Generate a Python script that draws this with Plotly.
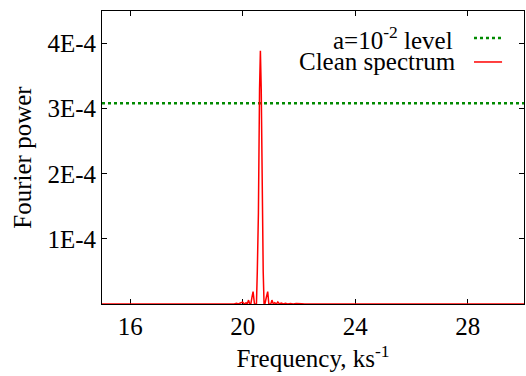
import plotly.graph_objects as go

# Clean spectrum samples (frequency in ks^-1, power)
freq = [15.0, 18.8, 19.0, 19.1, 19.2, 19.3, 19.4, 19.5, 19.6, 19.7, 19.78, 19.85, 19.92,
        20.0, 20.06, 20.12, 20.16, 20.21, 20.25, 20.29, 20.33, 20.37, 20.42, 20.49,
        20.52, 20.56, 20.6, 20.63, 20.66, 20.7, 20.73, 20.76,
        20.79, 20.84, 20.89, 20.93, 20.97, 21.0, 21.04,
        21.09, 21.14, 21.2, 21.25, 21.31, 21.37, 21.45, 21.52, 21.6, 21.7, 21.8,
        21.9, 22.0, 22.1, 22.2, 22.4, 30.0]
power = [0.0, 0.0, 0.04e-5, 0.0, 0.05e-5, 0.0, 0.06e-5, 0.0, 0.08e-5, 0.0, 0.12e-5, 0.0, 0.15e-5,
         0.3e-5, 0.0, 0.2e-5, 0.0, 0.6e-5, 0.0, 0.0, 1.0e-5, 1.9e-5, 0.0, 0.0,
         5.0e-5, 14.0e-5, 33.0e-5, 38.9e-5, 33.0e-5, 14.0e-5, 5.0e-5, 0.0,
         0.0, 1.0e-5, 1.9e-5, 0.0, 0.0, 0.0, 0.6e-5,
         0.0, 0.2e-5, 0.0, 0.3e-5, 0.0, 0.15e-5, 0.0, 0.12e-5, 0.0, 0.08e-5, 0.0,
         0.06e-5, 0.0, 0.05e-5, 0.0, 0.0, 0.0]

level_freq = [15.0, 30.0]
level_power = [3.085e-4, 3.085e-4]

x_ticks = [16, 20, 24, 28]
y_ticks = [1e-4, 2e-4, 3e-4, 4e-4]
y_ticklabels = ["1E-4", "2E-4", "3E-4", "4E-4"]

legend_labels = ["a=10<sup>-2</sup> level", "Clean spectrum"]

GREEN = "#008a00"
RED = "#ff0000"
FONT = "Liberation Serif"
FS = 25

fig = go.Figure()
fig.add_trace(go.Scatter(x=level_freq, y=level_power, mode="lines",
                         line=dict(color=GREEN, width=2.5, dash="dot"),
                         name=legend_labels[0], showlegend=False))
fig.add_trace(go.Scatter(x=freq, y=power, mode="lines",
                         line=dict(color=RED, width=1.5),
                         name=legend_labels[1], showlegend=False))

# gnuplot-style legend: text right-aligned, sample on the right
rows_y = [0.908, 0.826]
rows_x = [0.837, 0.843]
styles = [dict(color=GREEN, width=2.5, dash="dot"), dict(color=RED, width=1.5)]
for lbl, yy, xx, st in zip(legend_labels, rows_y, rows_x, styles):
    fig.add_annotation(xref="paper", yref="paper", x=xx, y=yy, text=lbl,
                       showarrow=False, xanchor="right", yanchor="middle",
                       font=dict(family=FONT, size=FS, color="black"))
    fig.add_shape(type="line", xref="paper", yref="paper",
                  x0=0.8815, x1=0.948, y0=yy, y1=yy, line=st)

axis_common = dict(showline=True, linecolor="black", linewidth=1, mirror="ticks",
                   ticks="inside", ticklen=5, tickcolor="black", showgrid=False,
                   zeroline=False, layer="below traces",
                   tickfont=dict(family=FONT, size=FS, color="black"))

fig.update_xaxes(range=[15, 30], tickvals=x_ticks, ticktext=[str(v) for v in x_ticks],
                 title=dict(text="Frequency, ks<sup>-1</sup>", standoff=10,
                            font=dict(family=FONT, size=FS, color="black")),
                 **axis_common)
fig.update_yaxes(range=[0, 4.5e-4], tickvals=y_ticks, ticktext=y_ticklabels,
                 title=dict(text="Fourier power", standoff=8,
                            font=dict(family=FONT, size=FS, color="black")),
                 **axis_common)

fig.update_layout(width=526, height=376, margin=dict(l=102, r=2, t=11, b=72),
                  plot_bgcolor="white", paper_bgcolor="white", showlegend=False,
                  font=dict(family=FONT, size=FS))

fig.write_html("out.html")
